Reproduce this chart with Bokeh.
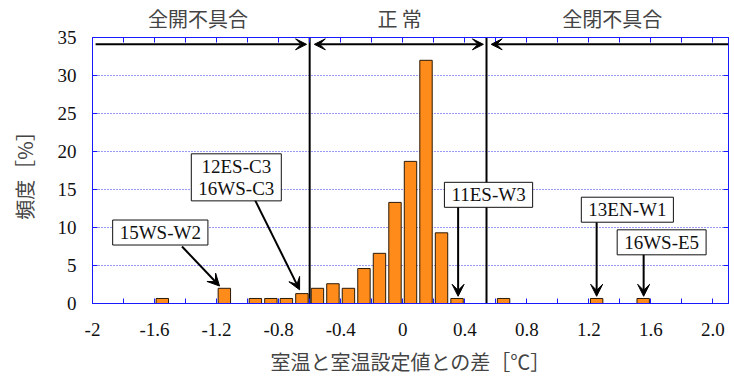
from bokeh.plotting import figure
from bokeh.models import (FixedTicker, LinearAxis, Range1d, Label, Arrow, VeeHead,
                          ColumnDataSource, CustomJSTickFormatter)
from bokeh.embed import file_html
from bokeh.resources import INLINE

# ---- data ----
bin_centers = [-1.55, -1.15, -0.95, -0.85, -0.75, -0.65, -0.55, -0.45, -0.35, -0.25,
               -0.15, -0.05, 0.05, 0.15, 0.25, 0.35, 0.65, 1.25, 1.55]
freq = [0.66, 2.0, 0.66, 0.66, 0.66, 1.3, 2.0, 2.6, 2.0, 4.6,
        6.6, 13.3, 18.7, 32.0, 9.3, 0.66, 0.66, 0.66, 0.66]

xticks = [-2.0, -1.6, -1.2, -0.8, -0.4, 0.0, 0.4, 0.8, 1.2, 1.6, 2.0]
xtick_labels = ["-2", "-1.6", "-1.2", "-0.8", "-0.4", "0", "0.4", "0.8", "1.2", "1.6", "2.0"]
xminor = [-1.8, -1.4, -1.0, -0.6, -0.2, 0.2, 0.6, 1.0, 1.4, 1.8]
yticks = [0, 5, 10, 15, 20, 25, 30, 35]

zone_bounds = [-0.6, 0.54]
zone_names = ["全開不具合", "正 常", "全閉不具合"]
zone_label_x = [-1.32, -0.02, 1.35]

case_names = ["15WS-W2", "12ES-C3\n16WS-C3", "11ES-W3", "13EN-W1", "16WS-E5"]
case_box_x = [-1.563, -1.073, 0.553, 1.448, 1.669]
case_box_y = [9.34, 16.6, 14.3, 12.34, 8.05]
case_arrow_from_x = [-1.423, -0.957, 0.357, 1.25, 1.553]
case_arrow_from_y = [7.5, 13.8, 12.8, 10.9, 6.7]
case_arrow_to_x = [-1.181, -0.665, 0.357, 1.25, 1.553]
case_arrow_to_y = [2.3, 1.8, 0.95, 0.95, 0.95]

x_label = "室温と室温設定値との差［℃］"
y_label = "頻度［%］"

BLUE = "#1a1aff"
SERIF = "Liberation Serif"
JP = "Noto Sans CJK JP"
JP_COLOR = "#444444"

p = figure(width=734, height=380, output_backend="svg", toolbar_location=None,
           x_range=Range1d(-2.0, 2.1), y_range=Range1d(0, 35),
           min_border_left=92, min_border_right=6, min_border_top=37, min_border_bottom=77,
           x_axis_type=None, y_axis_type=None)
p.background_fill_color = "white"
p.border_fill_color = "white"
p.outline_line_color = BLUE
p.outline_line_width = 1

xticker = FixedTicker(ticks=xticks, minor_ticks=xminor)
yticker = FixedTicker(ticks=yticks)
blank = CustomJSTickFormatter(code="return ''")

def style_axis(ax, labels=True):
    ax.axis_line_color = BLUE
    ax.major_tick_line_color = BLUE
    ax.minor_tick_line_color = BLUE
    ax.major_tick_in = 5
    ax.major_tick_out = 0
    ax.minor_tick_in = 5
    ax.minor_tick_out = 0
    if labels:
        ax.major_label_text_font = SERIF
        ax.major_label_text_font_size = "19px"
        ax.major_label_text_color = "#111111"
    else:
        ax.formatter = blank
        ax.major_label_standoff = 0

xb = LinearAxis(ticker=xticker, major_label_overrides=dict(zip(xticks, xtick_labels)))
style_axis(xb)
xb.major_label_standoff = 19
xb.axis_label = x_label
xb.axis_label_text_font = JP
xb.axis_label_text_font_size = "20px"
xb.axis_label_text_font_style = "normal"
xb.axis_label_text_color = JP_COLOR
xb.axis_label_standoff = 8
p.add_layout(xb, "below")

yl = LinearAxis(ticker=yticker)
style_axis(yl)
yl.major_label_standoff = 16
yl.axis_label = y_label
yl.axis_label_text_font = JP
yl.axis_label_text_font_size = "20px"
yl.axis_label_text_font_style = "normal"
yl.axis_label_text_color = JP_COLOR
yl.axis_label_standoff = 16
p.add_layout(yl, "left")

xt = LinearAxis(ticker=xticker)
style_axis(xt, labels=False)
p.add_layout(xt, "above")

# zone names as a tick-less axis above the plot
zt = LinearAxis(ticker=FixedTicker(ticks=zone_label_x),
                major_label_overrides=dict(zip(zone_label_x, zone_names)))
zt.axis_line_color = None
zt.major_tick_line_color = None
zt.minor_tick_line_color = None
zt.major_tick_in = 0
zt.major_tick_out = 0
zt.major_label_standoff = 5
zt.major_label_text_font = JP
zt.major_label_text_font_size = "20px"
zt.major_label_text_color = JP_COLOR
p.add_layout(zt, "above")

yr = LinearAxis(ticker=yticker)
style_axis(yr, labels=False)
p.add_layout(yr, "right")

# dotted horizontal grid
for yv in yticks[1:-1]:
    p.line(x=[-2.0, 2.1], y=[yv, yv], line_color="#3333ee", line_width=1, line_dash="1 2")

# bars
src = ColumnDataSource(dict(x=bin_centers, top=freq))
p.vbar(x="x", top="top", bottom=0, width=0.08, source=src,
       fill_color="#ff8c1a", line_color="#2a1a08", line_width=1)

# zone boundaries
for xb_ in zone_bounds:
    p.line(x=[xb_, xb_], y=[0, 35], line_color="black", line_width=2)

# zone arrows at top
ya = 34.1
def head():
    return VeeHead(size=11, fill_color="black", line_color="black", line_width=1)
p.add_layout(Arrow(x_start=-1.98, y_start=ya, x_end=zone_bounds[0] - 0.02, y_end=ya,
                   start=None, end=head(), line_width=2, line_color="black"))
p.add_layout(Arrow(x_start=zone_bounds[0] + 0.03, y_start=ya, x_end=zone_bounds[1] - 0.02, y_end=ya,
                   start=head(), end=head(), line_width=2, line_color="black"))
p.add_layout(Arrow(x_start=zone_bounds[1] + 0.03, y_start=ya, x_end=2.1, y_end=ya,
                   start=head(), end=None, line_width=2, line_color="black"))

# case annotations
for i, name in enumerate(case_names):
    p.add_layout(Arrow(x_start=case_arrow_from_x[i], y_start=case_arrow_from_y[i],
                       x_end=case_arrow_to_x[i], y_end=case_arrow_to_y[i],
                       end=VeeHead(size=12, fill_color="black", line_color="black"),
                       line_width=2, line_color="black"))
for i, name in enumerate(case_names):
    p.add_layout(Label(x=case_box_x[i], y=case_box_y[i], text=name,
                       text_align="center", text_baseline="middle",
                       text_font=SERIF, text_font_size="19px", text_color="#111111",
                       text_line_height=1.05,
                       background_fill_color="white", border_line_color="#111111",
                       border_line_width=1, padding=(7, 2)))

open("out.html", "w").write(file_html(p, INLINE))
